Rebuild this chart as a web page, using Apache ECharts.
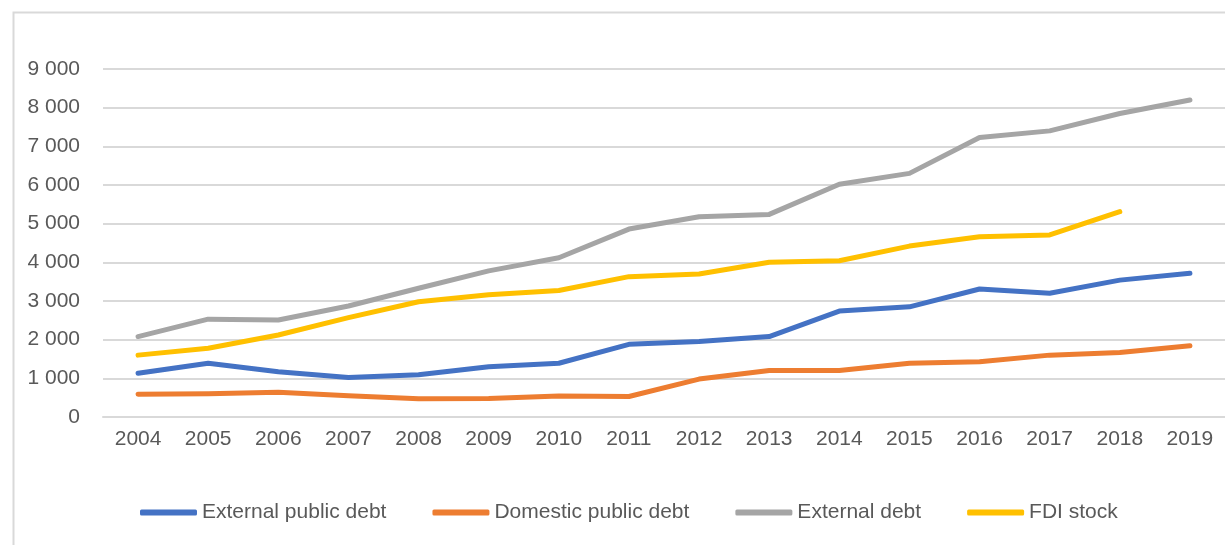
<!DOCTYPE html>
<html>
<head>
<meta charset="utf-8">
<script src="https://cdn.jsdelivr.net/npm/echarts@6/dist/echarts.min.js"></script>
<style>
html,body{margin:0;padding:0;background:#fff;}
#chart{width:1225px;height:545px;}
</style>
</head>
<body>
<div id="chart"></div>
<script>
const years = ['2004','2005','2006','2007','2008','2009','2010','2011','2012','2013','2014','2015','2016','2017','2018','2019'];
const externalPublicDebt = [1130,1390,1170,1020,1090,1300,1390,1880,1950,2080,2740,2850,3310,3200,3540,3720];
const domesticPublicDebt = [590,600,640,550,470,480,540,530,980,1200,1200,1390,1430,1600,1670,1840];
const externalDebt = [2080,2530,2510,2870,3330,3780,4120,4860,5180,5240,6020,6300,7230,7400,7850,8200];
const fdiStock = [1600,1780,2120,2570,2980,3160,3270,3630,3700,4000,4040,4420,4660,4710,5310,null];
const yTicks = {min:0, max:9000, interval:1000};

const chart = echarts.init(document.getElementById('chart'));
const font = 'Liberation Sans';
const textColor = '#595959';
function mk(name, data, color){
  return {
    name: name, type: 'line', data: data, symbol: 'none', smooth: false,
    lineStyle: {color: color, width: 5, cap: 'round', join: 'round'},
    itemStyle: {color: color},
    connectNulls: false
  };
}
chart.setOption({
  animation: false,
  graphic: [{
    type: 'rect', left: 11, top: 10,
    shape: {x: 0, y: 0, width: 1300, height: 600},
    style: {fill: 'none', stroke: '#d9d9d9', lineWidth: 2},
    silent: true
  }],
  grid: {left: 103, top: 69, width: 1126, height: 348, containLabel: false},
  xAxis: {
    type: 'category', data: years, boundaryGap: true,
    axisLine: {show: true, lineStyle: {color: '#d9d9d9', width: 2}},
    axisTick: {show: false},
    axisLabel: {color: textColor, fontFamily: font, fontSize: 21, margin: 12}
  },
  yAxis: {
    type: 'value', min: yTicks.min, max: yTicks.max, interval: yTicks.interval,
    axisLine: {show: false}, axisTick: {show: false},
    splitLine: {lineStyle: {color: '#d9d9d9', width: 2}},
    axisLabel: {
      color: textColor, fontFamily: font, fontSize: 21, margin: 23,
      formatter: function(v){ return String(v).replace(/\B(?=(\d{3})+(?!\d))/g, ' '); }
    }
  },
  legend: {
    left: 140, top: 502, padding: 0, itemGap: 46,
    itemWidth: 57, itemHeight: 6, icon: 'roundRect',
    textStyle: {color: textColor, fontFamily: font, fontSize: 21},
    data: ['External public debt','Domestic public debt','External debt','FDI stock']
  },
  series: [
    mk('External public debt', externalPublicDebt, '#4472C4'),
    mk('Domestic public debt', domesticPublicDebt, '#ED7D31'),
    mk('External debt', externalDebt, '#A5A5A5'),
    mk('FDI stock', fdiStock, '#FFC000')
  ]
});
</script>
</body>
</html>
